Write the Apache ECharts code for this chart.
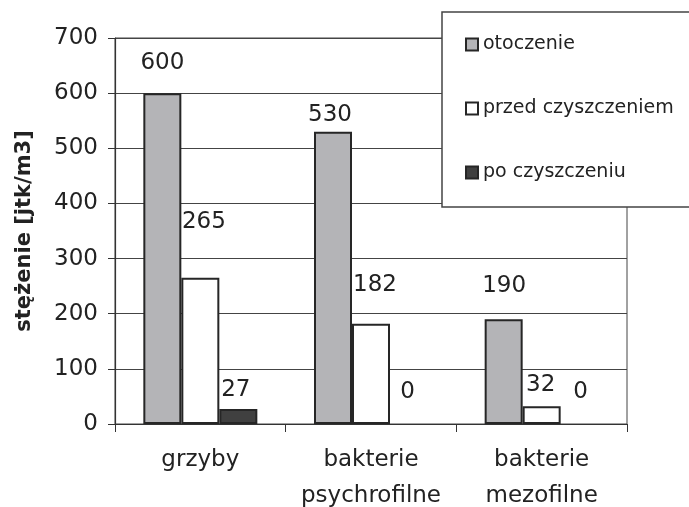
<!DOCTYPE html>
<html>
<head>
<meta charset="utf-8">
<script src="https://cdn.jsdelivr.net/npm/echarts@6/dist/echarts.min.js"></script>
<style>
html,body{margin:0;padding:0;background:#fff;}
#chart{width:689px;height:507px;}
</style>
</head>
<body>
<div id="chart"></div>
<script>
var categories = ['grzyby', 'bakterie\npsychrofilne', 'bakterie\nmezofilne'];
var seriesNames = ['otoczenie', 'przed czyszczeniem', 'po czyszczeniu'];
var otoczenie = [600, 530, 190];
var przedCzyszczeniem = [265, 182, 32];
var poCzyszczeniu = [27, 0, 0];
var yAxisName = 'stężenie [jtk/m3]';

// label placement tweaks (style only), per series per category
var labelOffsets = [
  [[0, -19], [-3, -5], [0.5, -22]],
  [[3.5, -44], [4, -27], [-1, -10]],
  [[-2.5, -8], [-1.5, -20], [1, -20]]
];
var fills = ['#b4b4b7', '#ffffff', '#404040'];
var txt = '#222';
var font = 'DejaVu Sans';

function makeSeries(idx, values) {
  return {
    name: seriesNames[idx],
    type: 'bar',
    barWidth: 38,
    barGap: '0%',
    itemStyle: { color: fills[idx], borderColor: '#262626', borderWidth: 2 },
    label: {
      show: true, position: 'top', distance: 0,
      color: txt, fontFamily: font, fontSize: 23
    },
    data: values.map(function (v, i) {
      var d = { value: v, label: { offset: labelOffsets[idx][i] } };
      if (v === 0) d.itemStyle = { borderWidth: 0 };
      return d;
    })
  };
}

var chart = echarts.init(document.getElementById('chart'), null, { renderer: 'canvas' });
chart.setOption({
  animation: false,
  backgroundColor: '#fff',
  grid: {
    left: 115, right: 62, top: 38, bottom: 83,
    containLabel: false,
    outerBoundsMode: 'none',
    show: true, borderColor: '#444', borderWidth: 1, backgroundColor: 'transparent'
  },
  legend: {
    orient: 'vertical',
    left: 442, top: 12,
    padding: [23, 30, 25, 23],
    itemGap: 45,
    itemWidth: 12, itemHeight: 12,
    backgroundColor: '#fff',
    borderColor: '#444', borderWidth: 1.5,
    icon: 'rect',
    textStyle: { color: txt, fontFamily: font, fontSize: 19 },
    data: seriesNames
  },
  xAxis: {
    type: 'category',
    data: categories,
    axisLine: { lineStyle: { color: '#333', width: 1.2 } },
    axisTick: { show: true, length: 8, lineStyle: { color: '#333' } },
    axisLabel: { interval: 0, color: txt, fontFamily: font, fontSize: 23, lineHeight: 36, margin: 18 }
  },
  yAxis: {
    type: 'value',
    min: 0, max: 700, interval: 100,
    name: yAxisName,
    nameLocation: 'middle',
    nameRotate: 90,
    nameGap: 80,
    nameTextStyle: { color: txt, fontFamily: font, fontSize: 21, fontWeight: 'bold' },
    axisLine: { show: true, lineStyle: { color: '#333', width: 1.2 } },
    axisTick: { show: true, length: 7, lineStyle: { color: '#333' } },
    axisLabel: { color: txt, fontFamily: font, fontSize: 23, margin: 17 },
    splitLine: { show: true, lineStyle: { color: '#444', width: 1 } }
  },
  series: [
    makeSeries(0, otoczenie),
    makeSeries(1, przedCzyszczeniem),
    makeSeries(2, poCzyszczeniu)
  ]
});
</script>
</body>
</html>
